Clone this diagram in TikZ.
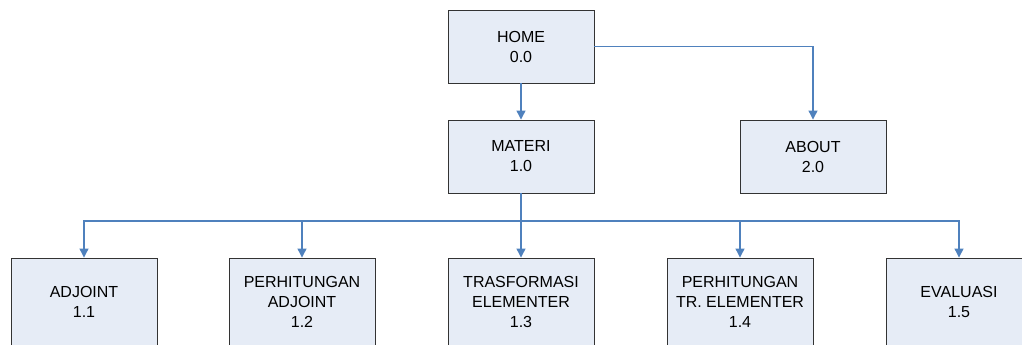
\documentclass[tikz,border=0pt]{standalone}
\usepackage{fontspec}
\setmainfont{Liberation Sans}
\usetikzlibrary{arrows.meta,shadows}

\definecolor{boxfill}{RGB}{230,236,246}
\definecolor{linkblue}{RGB}{79,129,189}

\tikzset{
  menu/.style={draw=black!80, line width=0.9pt, fill=boxfill, minimum width=146pt,
    minimum height=73pt, align=center, inner sep=0pt,
    font=\fontsize{16}{20}\selectfont,
    drop shadow={shadow xshift=1.2pt, shadow yshift=-1.2pt, fill=black!45, opacity=1}},
  submenu/.style={menu, minimum height=88pt},
  link/.style={draw=linkblue, line width=1.2pt, -{Triangle[width=9pt,length=9pt]}}
}

\begin{document}
\begin{tikzpicture}[x=1pt, y=-1pt]
\useasboundingbox (0,0) rectangle (1022,345);
\clip (0,0) rectangle (1022,345);

\node[menu] (home)   at (521,46.5)  {HOME\\0.0};
\node[menu] (materi) at (521,156.5) {MATERI\\1.0};
\node[menu] (about)  at (813,156.5) {ABOUT\\2.0};

\node[submenu] (adj)  at (84,302)  {ADJOINT\\1.1};
\node[submenu] (padj) at (302,302) {PERHITUNGAN\\ADJOINT\\1.2};
\node[submenu] (tre)  at (521,302) {TRASFORMASI\\ELEMENTER\\1.3};
\node[submenu] (ptre) at (740,302) {PERHITUNGAN\\TR. ELEMENTER\\1.4};
\node[submenu] (eval) at (959,302) {EVALUASI\\1.5};

\coordinate (bus) at (521,221);

\draw[link] (home) -- (materi);
\draw[link] (home.east) -| (about.north);
\foreach \n in {adj,padj,tre,ptre,eval}
  \draw[link] (materi.south) -- (bus) -| (\n.north);
\end{tikzpicture}
\end{document}
